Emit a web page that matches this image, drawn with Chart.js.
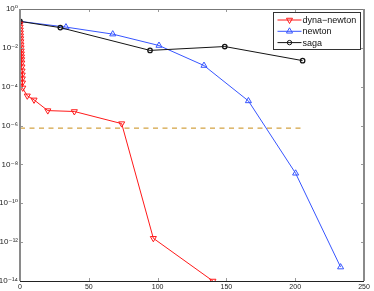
<!DOCTYPE html>
<html>
<head>
<meta charset="utf-8">
<script src="https://cdn.jsdelivr.net/npm/chart.js@4"></script>
<style>
  html, body { margin: 0; padding: 0; background: #fff; }
  #wrap { width: 374px; height: 291px; }
</style>
</head>
<body>
<div id="wrap"><canvas id="myChart" width="374" height="291"></canvas></div>
<script>
/* data */
let dynaX = [0, 0.1, 0.2, 0.3, 0.4, 0.5, 0.6, 0.7, 0.8, 0.9, 1.0, 1.1, 1.2, 1.3, 1.4, 1.5, 1.6, 1.7, 1.8,
    2, 5.3, 10.2, 20.2, 39.5, 73.9, 96.9, 140.2];
let dynaY = [0.17, 0.12, 0.085, 0.06, 0.042, 0.03, 0.021, 0.0145, 0.0102, 0.0071, 0.005, 0.0035, 0.0025,
    0.0017, 0.00107, 6.6e-4, 4.1e-4, 2.6e-4, 1.6e-4,
    8.7e-5, 3.4e-5, 2.1e-5, 5.9e-6, 5.3e-6, 1.26e-6, 1.58e-12, 1e-14];

let newtonX = [0, 33.4, 67.4, 101, 133.7, 166, 200.3, 233];
let newtonY = [0.23, 0.117, 0.051, 0.0132, 0.00123, 1.86e-5, 3.5e-9, 5.2e-14];

let sagaX = [0, 29.3, 94.5, 148.8, 205.4];
let sagaY = [0.23, 0.11, 0.0074, 0.0117, 0.0022];

let tolX = [0, 205];
let tolY = [7.4e-7, 7.4e-7];

let xTicks = [0, 50, 100, 150, 200, 250];
let yTicks = [1e-14, 1e-12, 1e-10, 1e-8, 1e-6, 1e-4, 1e-2, 1];

let seriesNames = ['dyna\u2212newton', 'newton', 'saga'];

const RED = 'rgb(255,25,25)';
const BLUE = 'rgb(55,85,255)';
const BLACK = 'rgb(20,20,20)';

function pts(xs, ys){
    let out = [];
    for(let i = 0; i < xs.length; i++){
        out.push({x: xs[i], y: ys[i]});
    }
    return out;
}

const sup = {'0':'\u2070','1':'\u00b9','2':'\u00b2','4':'\u2074','6':'\u2076','8':'\u2078','-':'\u207b'};
function powLabel(v){
    let e = String(Math.round(Math.log10(v)));
    return '10' + e.split('').map(c => sup[c]).join('');
}

/* frame, inward ticks and boxed legend like matlab */
const matlabFrame = {
    id: 'matlabFrame',
    afterDraw(chart){
        const ctx = chart.ctx;
        const a = chart.chartArea;
        const xs = chart.scales.x, ys = chart.scales.y;
        ctx.save();
        // ticks
        ctx.strokeStyle = '#999';
        ctx.lineWidth = 1;
        xTicks.forEach(t => {
            let px = Math.round(xs.getPixelForValue(t)) + 0.5;
            ctx.beginPath();
            ctx.moveTo(px, a.bottom); ctx.lineTo(px, a.bottom - 3);
            ctx.moveTo(px, a.top); ctx.lineTo(px, a.top + 3);
            ctx.stroke();
        });
        yTicks.forEach(t => {
            let py = Math.round(ys.getPixelForValue(t)) + 0.5;
            ctx.beginPath();
            ctx.moveTo(a.left, py); ctx.lineTo(a.left + 3, py);
            ctx.moveTo(a.right, py); ctx.lineTo(a.right - 3, py);
            ctx.stroke();
        });
        // box
        ctx.strokeStyle = '#777';
        ctx.lineWidth = 1;
        ctx.beginPath();
        ctx.moveTo(a.left, a.top + 0.5); ctx.lineTo(a.right, a.top + 0.5);
        ctx.stroke();
        ctx.strokeStyle = '#8a8a8a';
        ctx.lineWidth = 2;
        ctx.beginPath();
        ctx.moveTo(a.left, a.top); ctx.lineTo(a.left, a.bottom);
        ctx.moveTo(a.right, a.top); ctx.lineTo(a.right, a.bottom);
        ctx.stroke();
        ctx.strokeStyle = '#222';
        ctx.lineWidth = 1;
        ctx.beginPath();
        ctx.moveTo(a.left, a.bottom + 0.5); ctx.lineTo(a.right, a.bottom + 0.5);
        ctx.stroke();

        // legend
        let lx = 273.5, ly = 12.5, lw = 87, lh = 37;
        ctx.fillStyle = '#fff';
        ctx.fillRect(lx, ly, lw, lh);
        ctx.strokeStyle = '#333';
        ctx.lineWidth = 1;
        ctx.strokeRect(lx, ly, lw, lh);
        ctx.font = '9px "Liberation Sans", Arial, sans-serif';
        ctx.textBaseline = 'middle';
        ctx.textAlign = 'left';
        const rows = [
            {color: RED, style: 'triangle', rot: 180, r: 3.5},
            {color: BLUE, style: 'triangle', rot: 0, r: 3.5},
            {color: BLACK, style: 'circle', rot: 0, r: 2.2}
        ];
        rows.forEach((r, i) => {
            let yy = 20 + i * 11.3;
            ctx.strokeStyle = r.color;
            ctx.lineWidth = 1;
            ctx.beginPath();
            ctx.moveTo(lx + 4, yy); ctx.lineTo(lx + 28, yy);
            ctx.stroke();
            ctx.fillStyle = 'rgba(0,0,0,0)';
            Chart.helpers.drawPoint(ctx, {pointStyle: r.style, rotation: r.rot, radius: r.r, borderWidth: 1}, lx + 16, yy);
            ctx.fillStyle = '#111';
            ctx.fillText(seriesNames[i], lx + 29, yy + 0.5);
        });
        ctx.restore();
    }
};

let data = {
    datasets: [
        {
            label: seriesNames[0],
            data: pts(dynaX, dynaY),
            borderColor: RED,
            backgroundColor: 'rgba(0,0,0,0)',
            borderWidth: 1,
            pointStyle: 'triangle',
            rotation: 180,
            pointRadius: 3.5,
            pointBorderWidth: 1,
            showLine: true,
            order: 1
        },
        {
            label: seriesNames[1],
            data: pts(newtonX, newtonY),
            borderColor: BLUE,
            backgroundColor: 'rgba(0,0,0,0)',
            borderWidth: 1,
            pointStyle: 'triangle',
            pointRadius: 3.5,
            pointBorderWidth: 1,
            showLine: true,
            order: 3
        },
        {
            label: seriesNames[2],
            data: pts(sagaX, sagaY),
            borderColor: BLACK,
            backgroundColor: 'rgba(0,0,0,0)',
            borderWidth: 1,
            pointStyle: 'circle',
            pointRadius: 2.2,
            pointBorderWidth: 1.3,
            showLine: true,
            order: 2
        },
        {
            label: 'tol',
            data: pts(tolX, tolY),
            borderColor: 'rgb(200,140,20)',
            borderWidth: 1,
            borderDash: [5, 4.5],
            pointRadius: 0,
            showLine: true,
            order: 4
        }
    ]
};

let config = {
    type: 'scatter',
    data: data,
    plugins: [matlabFrame],
    options: {
        responsive: false,
        animation: false,
        layout: {padding: {top: 9, right: 10, left: 0, bottom: 0}},
        plugins: {legend: {display: false}, tooltip: {enabled: false}},
        scales: {
            x: {
                type: 'linear',
                min: 0,
                max: 250,
                border: {display: false},
                grid: {display: false, drawTicks: false},
                afterBuildTicks: s => { s.ticks = xTicks.map(v => ({value: v})); },
                afterFit: s => { s.height = 10; },
                ticks: {
                    padding: 2,
                    color: '#222',
                    maxRotation: 0,
                    font: {family: '"Liberation Sans", Arial, sans-serif', size: 7}
                }
            },
            y: {
                type: 'logarithmic',
                min: 1e-14,
                max: 1,
                border: {display: false},
                grid: {display: false, drawTicks: false},
                afterBuildTicks: s => { s.ticks = yTicks.map(v => ({value: v})); },
                afterFit: s => { s.width = 20; },
                ticks: {
                    padding: 2,
                    color: '#222',
                    font: {family: '"Liberation Sans", "DejaVu Sans", sans-serif', size: 8},
                    callback: v => powLabel(v)
                }
            }
        }
    }
};

let myChart = new Chart(document.getElementById('myChart').getContext('2d'), config);
</script>
</body>
</html>
